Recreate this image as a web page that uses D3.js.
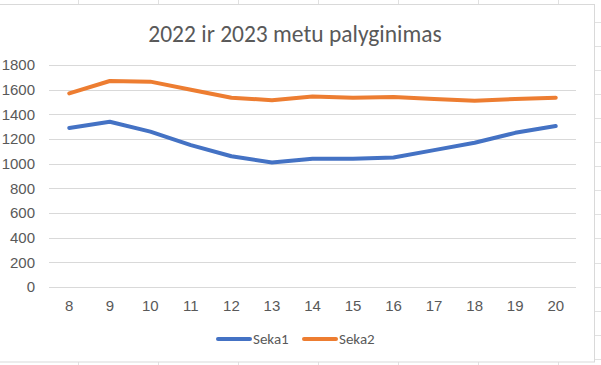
<!DOCTYPE html>
<html>
  <head>
    <meta charset="utf-8">
    <title>2022 ir 2023 metu palyginimas</title>
    <script src="https://cdn.jsdelivr.net/npm/d3@7"></script>
    <style>
      body { margin: 0; background: #fff; }
      svg { display: block; font-family: Carlito, "Open Sans", "Liberation Sans", sans-serif; }
      .grid line { stroke: #d9d9d9; stroke-width: 1; shape-rendering: crispEdges; }
      .axis text { fill: #595959; font-size: 15px; }
      .cells line { stroke: #e1e1e1; shape-rendering: crispEdges; }
    </style>
  </head>
  <body>
    <script>
      var categories = ['8', '9', '10', '11', '12', '13', '14', '15', '16', '17', '18', '19', '20'];
      var seka1 = [1290, 1340, 1260, 1150, 1060, 1010, 1040, 1040, 1050, 1110, 1170, 1250, 1305];
      var seka2 = [1570, 1670, 1665, 1600, 1535, 1515, 1545, 1535, 1540, 1525, 1510, 1525, 1535];
      var yTicks = [0, 200, 400, 600, 800, 1000, 1200, 1400, 1600, 1800];
      var seriesNames = ['Seka1', 'Seka2'];
      var colors = ['#4472c4', '#ed7d31'];

      var w = 601, h = 365;
      var plot = { left: 49, right: 576, top: 65, bottom: 287 };

      var svg = d3.select('body').append('svg')
          .attr('width', w)
          .attr('height', h);

      // spreadsheet cell lines around the chart
      var cells = svg.append('g').attr('class', 'cells');
      d3.range(78.5, 600, 80).forEach(function(x) {
        cells.append('line').attr('x1', x).attr('x2', x).attr('y1', 0).attr('y2', 5);
        cells.append('line').attr('x1', x).attr('x2', x).attr('y1', 362).attr('y2', h);
      });
      d3.range(21.5, h, 24.1).forEach(function(y) {
        cells.append('line').attr('x1', 594).attr('x2', w).attr('y1', Math.round(y) + 0.5).attr('y2', Math.round(y) + 0.5);
      });

      // chart area
      svg.append('rect')
          .attr('x', -1).attr('y', 4.5)
          .attr('width', 595.5).attr('height', 357.5)
          .attr('fill', '#fff')
          .attr('stroke', '#d9d9d9');

      svg.append('text')
          .attr('x', 295)
          .attr('y', 42)
          .attr('text-anchor', 'middle')
          .style('fill', '#595959')
          .style('font-size', '23.5px')
          .text('2022 ir 2023 metu palyginimas');

      var xScale = d3.scaleBand()
          .domain(categories)
          .range([plot.left, plot.right]);

      var yScale = d3.scaleLinear()
          .domain([0, 1800])
          .range([plot.bottom, plot.top]);

      svg.append('g')
          .attr('class', 'grid')
          .selectAll('line')
          .data(yTicks)
          .enter()
          .append('line')
          .attr('x1', plot.left)
          .attr('x2', plot.right)
          .attr('y1', function(d) { return Math.round(yScale(d)) + 0.5; })
          .attr('y2', function(d) { return Math.round(yScale(d)) + 0.5; });

      var yAxis = d3.axisLeft(yScale).tickValues(yTicks).tickFormat(d3.format('d')).tickSize(0).tickPadding(14);
      svg.append('g')
          .attr('class', 'axis')
          .attr('transform', 'translate(' + plot.left + ',0)')
          .call(yAxis)
          .call(function(g) { g.select('.domain').remove(); });

      var xAxis = d3.axisBottom(xScale).tickSize(0).tickPadding(13);
      svg.append('g')
          .attr('class', 'axis')
          .attr('transform', 'translate(0,' + plot.bottom + ')')
          .call(xAxis)
          .call(function(g) { g.select('.domain').remove(); });

      var line = d3.line()
          .x(function(d, i) { return xScale(categories[i]) + xScale.bandwidth() / 2; })
          .y(function(d) { return yScale(d); });

      [seka1, seka2].forEach(function(values, i) {
        svg.append('path')
            .datum(values)
            .attr('d', line)
            .attr('fill', 'none')
            .attr('stroke', colors[i])
            .attr('stroke-width', 4)
            .attr('stroke-linejoin', 'round')
            .attr('stroke-linecap', 'round');
      });

      // legend
      var legend = svg.append('g').attr('class', 'axis');
      var legendX = [218, 304];
      seriesNames.forEach(function(name, i) {
        legend.append('line')
            .attr('x1', legendX[i]).attr('x2', legendX[i] + 32)
            .attr('y1', 339).attr('y2', 339)
            .attr('stroke', colors[i])
            .attr('stroke-width', 4)
            .attr('stroke-linecap', 'round');
        legend.append('text')
            .attr('x', legendX[i] + 35)
            .attr('y', 344)
            .text(name);
      });
    </script>
  </body>
</html>
